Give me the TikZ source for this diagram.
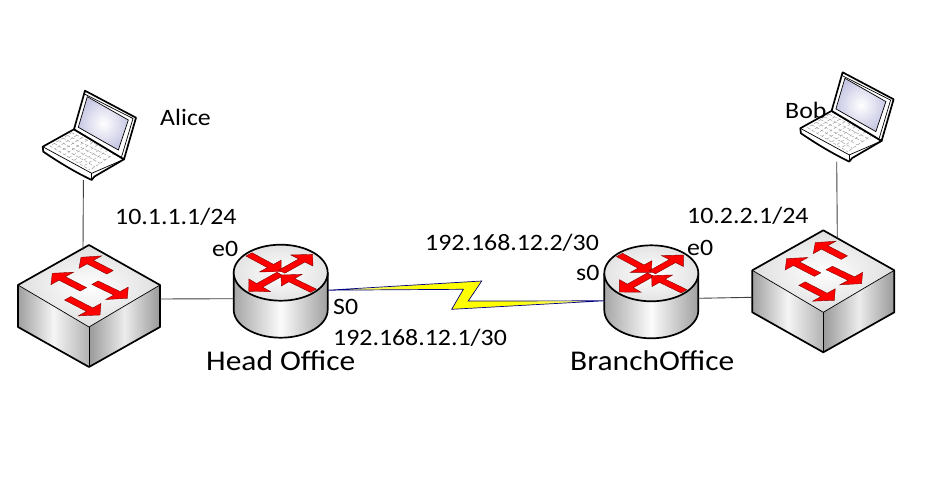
\documentclass[tikz,border=0pt]{standalone}
\usepackage{fontspec}
\setmainfont[FakeStretch=1.1]{Carlito}
\usetikzlibrary{calc}
\newcommand\redarrow[7]{%
  \pgfmathsetmacro\hx{#3+#5*(#1-#3)}%
  \pgfmathsetmacro\hy{#4+#5*(#2-#4)}%
  \pgfmathsetmacro\ax{.28*#6}%
  \pgfmathsetmacro\ay{.28*#7}%
  \pgfmathsetmacro\px{\hx+#6}%
  \pgfmathsetmacro\py{\hy+#7}%
  \pgfmathsetmacro\qx{\hx-#6}%
  \pgfmathsetmacro\qy{\hy-#7}%
  \pgfmathsetmacro\ex{\hx+\ax}%
  \pgfmathsetmacro\ey{\hy+\ay}%
  \pgfmathsetmacro\fx{\hx-\ax}%
  \pgfmathsetmacro\fy{\hy-\ay}%
  \pgfmathsetmacro\gx{#1+\ax}%
  \pgfmathsetmacro\gy{#2+\ay}%
  \pgfmathsetmacro\jx{#1-\ax}%
  \pgfmathsetmacro\jy{#2-\ay}%
  \filldraw[redarr] (\gx,\gy) -- (\ex,\ey) -- (\px,\py) -- (#3,#4) -- (\qx,\qy) -- (\fx,\fy) -- (\jx,\jy) -- cycle;}
\pgfdeclarehorizontalshading{boltfill}{100bp}{
  color(0bp)=(blue!45!black); color(10bp)=(blue!25!gray!50); color(25bp)=(white!70!yellow);
  color(42bp)=(yellow); color(58bp)=(yellow); color(75bp)=(white!70!yellow); color(90bp)=(gray!40); color(100bp)=(blue!45!black)}
\tikzset{
  redarr/.style={fill=red,draw=black!50!red,line width=.4pt,line join=miter},
  wire/.style={draw=black!75,line width=.9pt},
  txt/.style={anchor=base west,inner sep=0pt,text=black,font=\fontsize{23.5}{26}\selectfont},
  bigtxt/.style={txt,font=\fontsize{28.6}{32}\selectfont},
  edgeout/.style={draw=black,line width=1.7pt,line join=round},
  edgein/.style={draw=black,line width=.7pt},
  laptop/.pic={
    \coordinate (-A) at (71.7,132.7);
    \coordinate (-B) at (115,153.3);
    \coordinate (-C) at (90,170);
    \coordinate (-D) at (50,146);
    \filldraw[fill=white,edgeout] (42.7,146.7) -- (43.3,151.7) .. controls (60,163) and (75,172) .. (91.7,180) -- (94.5,176.5) -- (124,159.3) -- (74,129.3) -- cycle;
    \draw[edgein] (42.7,146.7) -- (91.7,173.3) -- (124,159.3);
    \draw[edgein] (91.7,173.3) -- (91.7,180);
    \foreach \t in {0,.2,.4,.6,.8,1}
      \draw[gray!80,line width=.45pt,densely dashed] ($(-A)!\t!(-D)$) -- ($(-B)!\t!(-C)$);
    \foreach \t in {0,.12,.24,.36,.48,.6,.72,.84,1}
      \draw[gray!80,line width=.45pt,densely dashed] ($(-A)!\t!(-B)$) -- ($(-D)!\t!(-C)$);
    \filldraw[fill=white,edgeout] (85,90.7) -- (136,117.7) -- (124,159.3) -- (74,129.3) -- cycle;
    \draw[edgein] (84.5,94) -- (133,118.5) -- (121.5,157);
    \path[shade,inner color=white,outer color=blue!35!gray!32] (87.3,96.7) -- (128.3,120) -- (118.3,150) -- (78.3,127.3) -- cycle;
    \draw[edgein] (87.3,96.7) -- (128.3,120) -- (118.3,150) -- (78.3,127.3) -- cycle;
    \coordinate (-port) at (83.4,180);
    \coordinate (-portb) at (79.1,180);
  },
  switchbox/.pic={
    \path[shade,left color=gray!75,right color=gray!60,middle color=white!92!gray] (18,285) -- (89,327) -- (89,367) -- (18,327) -- cycle;
    \path[shade,left color=gray!80,right color=gray!80,middle color=white!85!gray] (89,327) -- (160,285) -- (160,327) -- (89,367) -- cycle;
    \path[shade,inner color=white,outer color=gray!25] (89,245) -- (160,285) -- (89,327) -- (18,285) -- cycle;
    \draw[edgein] (18,285) -- (89,327) -- (160,285);
    \draw[edgein] (89,327) -- (89,367);
    \draw[edgeout] (89,245) -- (160,285) -- (160,327) -- (89,367) -- (18,327) -- (18,285) -- cycle;
    \redarrow{110}{272.3}{81}{257.3}{.32}{11.3}{-6.2}
    \redarrow{83.3}{289.3}{52.3}{273.3}{.32}{11.3}{-6.2}
    \redarrow{95}{282.7}{127.3}{298.3}{.32}{11.3}{-6.2}
    \redarrow{67.7}{298.3}{100}{315}{.32}{11.3}{-6.2}
    \coordinate (-up) at (83,250);
    \coordinate (-upb) at (103,252.7);
    \coordinate (-east) at (160,299);
    \coordinate (-west) at (18,312);
  },
  routerbox/.pic={
    \path[shade,left color=gray!70,right color=gray!75,middle color=white!97!gray] (-47,0) -- (-47,37) arc[start angle=180,end angle=360,x radius=47,y radius=-28] -- (47,0) -- cycle;
    \draw[edgeout] (-47,0) -- (-47,37) arc[start angle=180,end angle=360,x radius=47,y radius=-28] -- (47,0);
    \path[shade,inner color=white,outer color=gray!22] (0,0) ellipse[x radius=47,y radius=28];
    \draw[edgeout] (0,0) ellipse[x radius=47,y radius=28];
    \redarrow{-31.7}{-18.3}{.3}{-1}{.33}{10.8}{-5.85}
    \redarrow{1}{-1}{32}{-18.3}{.35}{11}{5.5}
    \redarrow{-.7}{1.3}{-32}{18.7}{.35}{10.8}{6.3}
    \redarrow{32.7}{18}{.3}{2.3}{.33}{10.3}{-5.8}
    \coordinate (-west) at (-47,26);
    \coordinate (-east) at (47,25);
    \coordinate (-wser) at (-47,27.5);
    \coordinate (-eser) at (47,17.5);
  }
}
\begin{document}
\begin{tikzpicture}[x=1pt,y=-1pt]
\useasboundingbox (0,0) rectangle (926,484);
\fill[white] (0,0) rectangle (926,484);
\pic (pcA) at (0,0) {laptop};
\pic (pcB) at (757.6,-18.4) {laptop};
\pic (swA) at (0,0) {switchbox};
\pic (swB) at (734.3,-14.7) {switchbox};
\pic (hq) at (280.7,272.7) {routerbox};
\pic (br) at (651.3,273.3) {routerbox};
\draw[wire] (pcA-port) -- (swA-up);
\draw[wire] (swA-east) -- (hq-west);
\draw[wire] (br-east) -- (swB-west);
\draw[wire] (pcB-portb) -- (swB-upb);
\coordinate (boltA) at (hq-eser);
\coordinate (boltB) at (br-wser);
\path[shading=boltfill,draw=blue!50!black,line width=.7pt,line join=miter] (boltA) -- (481.7,281) -- (468.3,301) -- (boltB) -- (451.7,309.3) -- (463.3,289.3) -- cycle;
\node[txt] (tAlice) at (160,125) {Alice};
\node[txt] (tBob) at (785,119) {Bob};
\node[txt] (ipA) at (115,224) {10.1.1.1/24};
\node[txt] (ipB) at (687,223) {10.2.2.1/24};
\node[txt] (e0A) at (212,256) {e0};
\node[txt] (e0B) at (687,255.7) {e0};
\node[txt] (s0A) at (333,314) {S0};
\node[txt] (s0B) at (576,280) {s0};
\node[txt] (serA) at (333,345) {192.168.12.1/30};
\node[txt] (serB) at (425,250) {192.168.12.2/30};
\node[bigtxt] (hqname) at (206,370) {Head Of{}f{}ice};
\node[bigtxt] (brname) at (570,370) {BranchOf{}f{}ice};
\end{tikzpicture}
\end{document}
